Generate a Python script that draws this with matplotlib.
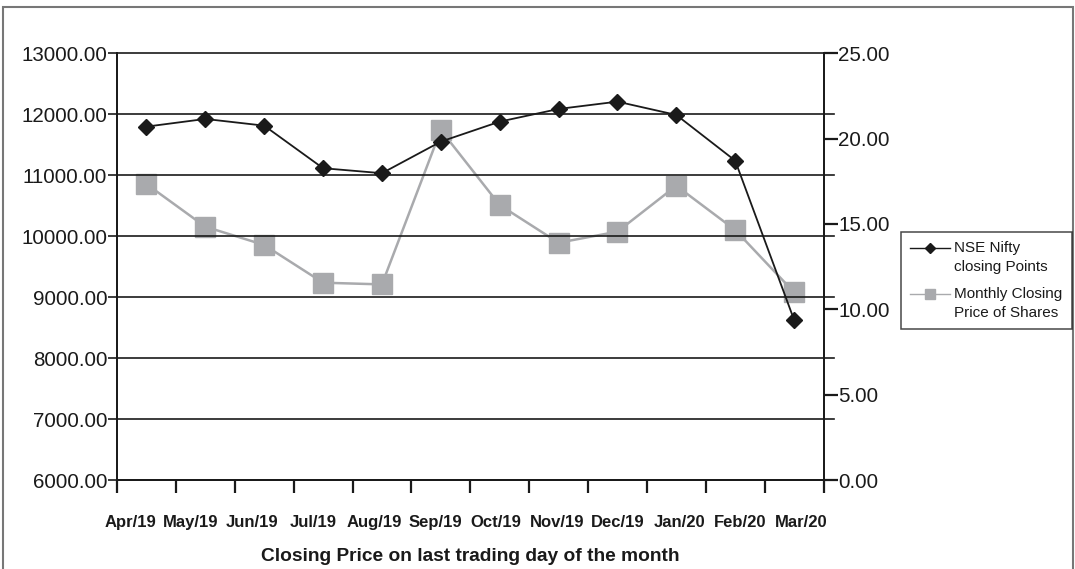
import matplotlib.pyplot as plt
from matplotlib.lines import Line2D
from matplotlib.patches import Rectangle
from matplotlib.legend_handler import HandlerLine2D
from matplotlib.ticker import FormatStrFormatter

plt.rcParams['font.family'] = ['Liberation Sans', 'DejaVu Sans']

months = ['Apr/19', 'May/19', 'Jun/19', 'Jul/19', 'Aug/19', 'Sep/19',
          'Oct/19', 'Nov/19', 'Dec/19', 'Jan/20', 'Feb/20', 'Mar/20']
nifty = [11797, 11923, 11813, 11115, 11033, 11551,
         11879, 12087, 12207, 11989, 11239, 8628]
shares = [17.34, 14.84, 13.77, 11.56, 11.46, 20.50,
          16.11, 13.90, 14.55, 17.24, 14.65, 11.00]
left_ticks = [6000, 7000, 8000, 9000, 10000, 11000, 12000, 13000]
right_ticks = [0, 5, 10, 15, 20, 25]

W, H = 1075, 569
fig = plt.figure(figsize=(W / 100, H / 100), dpi=100)
ax = fig.add_axes([117 / W, 1 - 480 / H, (823.5 - 117) / W, (480 - 53.3) / H])
ax2 = ax.twinx()

pos = [i + 0.5 for i in range(len(months))]
# month labels sit a bit wider apart than the categories in the original
label_pos = [5.92 + (i - 5.5) * 1.036 for i in range(len(months))]
ink = '#1a1a1a'
grey = '#a9aaad'

# gridlines, running a little past the right spine
for v in left_ticks:
    ax.axhline(v, 0, 1 + 10 / 706, color=ink, lw=1.2, clip_on=False, zorder=1)

ax.plot(pos, nifty, color=ink, lw=1.3, marker='D', ms=8, mfc=ink, mec=ink, zorder=4)
ax2.plot(pos, shares, color=grey, lw=1.8, marker='s', ms=14.5, mfc=grey, mec=grey, zorder=3)
ax.set_zorder(ax2.get_zorder() + 1)
ax.patch.set_visible(False)

ax.set_xlim(0, len(months))
ax.set_ylim(6000, 13000)
ax2.set_ylim(0, 25)

ax.set_yticks(left_ticks)
ax.yaxis.set_major_formatter(FormatStrFormatter('%.2f'))
ax2.set_yticks(right_ticks)
ax2.yaxis.set_major_formatter(FormatStrFormatter('%.2f'))

ax.set_xticks(range(len(months) + 1))
ax.set_xticklabels([])
ax.set_xticks(label_pos, minor=True)
ax.set_xticklabels(months, minor=True, fontsize=12, fontweight='bold', color=ink)
ax.tick_params(axis='x', which='major', direction='out', length=9.5, width=1.6, color=ink)
ax.tick_params(axis='x', which='minor', length=0, pad=25)
ax.tick_params(axis='y', direction='out', length=6.5, width=1.2, color=ink,
               labelsize=14.8, pad=0.5, labelcolor=ink)
ax2.tick_params(axis='y', direction='out', length=10, width=1.6, color=ink,
                labelsize=14.8, pad=0.5, labelcolor=ink)

for a in (ax, ax2):
    a.spines['top'].set_visible(False)
    for s in ('left', 'right', 'bottom'):
        a.spines[s].set_color(ink)
        a.spines[s].set_linewidth(1.3)

ax.set_xlabel('Closing Price on last trading day of the month', fontsize=13.8,
              fontweight='bold', color=ink, labelpad=13)


class RaisedHandler(HandlerLine2D):
    # put the sample level with the first line of a two-line label
    def create_artists(self, legend, orig_handle, xdescent, ydescent, width, height,
                       fontsize, trans):
        return super().create_artists(legend, orig_handle, xdescent, ydescent - 13,
                                      width, height, fontsize, trans)


handles = [
    Line2D([], [], color=ink, lw=1, marker='D', ms=5.5, mfc=ink, mec=ink),
    Line2D([], [], color=grey, lw=1, marker='s', ms=7, mfc=grey, mec=grey),
]
labels = ['NSE Nifty\nclosing Points', 'Monthly Closing\nPrice of Shares']
leg = fig.legend(handles, labels, loc='upper left', bbox_to_anchor=(900.7 / W, 1 - 231.7 / H),
                 borderaxespad=0, fontsize=11, frameon=True, fancybox=False,
                 handlelength=2.6, handletextpad=0.3, labelspacing=0.85,
                 borderpad=0.6, handler_map={Line2D: RaisedHandler()})
leg.get_frame().set_edgecolor(ink)
leg.get_frame().set_linewidth(1.1)
for t in leg.get_texts():
    t.set_color(ink)
    t.set_linespacing(1.45)

# outer border of the picture
fig.patches.append(Rectangle((3 / W, -0.05), (1073 - 3) / W, 1.05 - 7 / H,
                             transform=fig.transFigure, fill=False,
                             edgecolor='#777777', lw=1.5, clip_on=False))

fig.savefig('out.png', dpi=100)
